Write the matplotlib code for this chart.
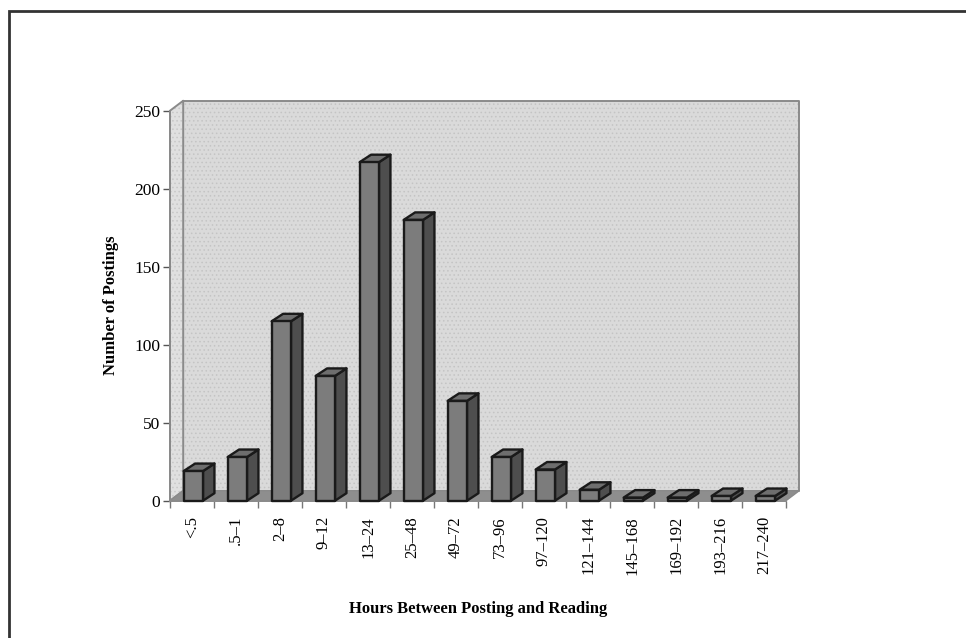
import matplotlib.pyplot as plt
import matplotlib.patches as patches

plt.rcParams['font.family'] = ['Liberation Serif', 'DejaVu Serif']
plt.rcParams['hatch.linewidth'] = 0.6

categories = ['<.5', '.5\u20131', '2\u20138', '9\u201312', '13\u201324', '25\u201348',
              '49\u201372', '73\u201396', '97\u2013120', '121\u2013144', '145\u2013168',
              '169\u2013192', '193\u2013216', '217\u2013240']
postings = [19, 28, 115, 80, 217, 180, 64, 28, 20, 7, 2, 2, 3, 3]
y_ticks = [0, 50, 100, 150, 200, 250]

# depth offsets of walls and bars (x in category units, y in value units)
wall_dx, wall_dy = 0.30, 6.4
bar_dx, bar_dy = 0.26, 4.8
half_w = 0.22

wall_col = '#dadada'
side_wall_col = '#e0e0e0'
floor_col = '#8e8e8e'
edge_wall = '#8a8a8a'
front_col = '#7c7c7c'
side_col = '#4e4e4e'
top_col = '#6e6e6e'
edge_bar = '#1a1a1a'


def poly(ax, pts, fc, ec, lw, z, hatch=None):
    p = patches.Polygon(pts, closed=True, facecolor=fc, edgecolor=ec,
                        linewidth=lw, zorder=z, clip_on=False, joinstyle='round',
                        hatch=hatch)
    ax.add_patch(p)


def plot():
    fig = plt.figure(figsize=(9.66, 6.38), dpi=100)
    ax = fig.add_axes([170 / 966, (638 - 500.7) / 638, 616 / 966, 390 / 638])
    n = len(categories)
    x0, x1 = -0.5, n - 0.5
    ymax = y_ticks[-1]
    ax.set_xlim(x0, x1)
    ax.set_ylim(0, ymax)
    ax.set_facecolor('none')
    for s in ax.spines.values():
        s.set_visible(False)

    # walls and floor, with a light speckle on the walls
    back = [(x0 + wall_dx, wall_dy), (x1 + wall_dx, wall_dy),
            (x1 + wall_dx, ymax + wall_dy), (x0 + wall_dx, ymax + wall_dy)]
    side = [(x0, 0), (x0 + wall_dx, wall_dy), (x0 + wall_dx, ymax + wall_dy), (x0, ymax)]
    poly(ax, back, wall_col, 'none', 0, 1)
    poly(ax, back, 'none', '#c4c4c4', 0, 1, hatch='....')
    poly(ax, back, 'none', edge_wall, 1.4, 1)
    poly(ax, side, side_wall_col, 'none', 0, 1)
    poly(ax, side, 'none', '#c8c8c8', 0, 1, hatch='....')
    poly(ax, side, 'none', edge_wall, 1.4, 1)
    poly(ax, [(x0, 0), (x1, 0), (x1 + wall_dx, wall_dy), (x0 + wall_dx, wall_dy)],
         floor_col, edge_wall, 1.0, 2)

    # 3d columns
    for i, v in enumerate(postings):
        c = i + 0.03
        l, r = c - half_w, c + half_w
        poly(ax, [(r, 0), (r + bar_dx, bar_dy), (r + bar_dx, v + bar_dy), (r, v)],
             side_col, edge_bar, 1.7, 3)
        poly(ax, [(l, v), (r, v), (r + bar_dx, v + bar_dy), (l + bar_dx, v + bar_dy)],
             top_col, edge_bar, 1.7, 3)
        poly(ax, [(l, 0), (r, 0), (r, v), (l, v)], front_col, edge_bar, 1.7, 4)

    # front edges of the floor and the left wall act as the axes
    ax.plot([x0, x1], [0, 0], color=edge_wall, lw=1.4, zorder=2, clip_on=False)
    ax.plot([x0, x0], [0, ymax], color=edge_wall, lw=1.4, zorder=2, clip_on=False)

    ax.set_yticks(y_ticks)
    ax.set_yticklabels([str(t) for t in y_ticks], fontsize=12.5)
    ax.tick_params(axis='y', length=5, width=1, color='#555555', pad=2)

    ax.set_xticks(range(n))
    ax.set_xticklabels(categories, rotation=90, fontsize=12)
    ax.tick_params(axis='x', which='major', length=0, pad=11)
    ax.set_xticks([k - 0.5 for k in range(n + 1)], minor=True)
    ax.tick_params(axis='x', which='minor', length=5, width=1, color='#777777')

    ax.set_ylabel('Number of Postings', fontsize=12, fontweight='bold', labelpad=11)
    ax.set_xlabel('Hours Between Posting and Reading', fontsize=12,
                  fontweight='bold', labelpad=19)

    # page frame
    fig.patches.append(patches.Rectangle((9 / 966, -0.1), 1.2, (638 - 11) / 638 + 0.1,
                                         transform=fig.transFigure, fill=False,
                                         edgecolor='#333333', linewidth=2))

    fig.savefig('out.png', dpi=100)


if __name__ == "__main__":
    plot()
